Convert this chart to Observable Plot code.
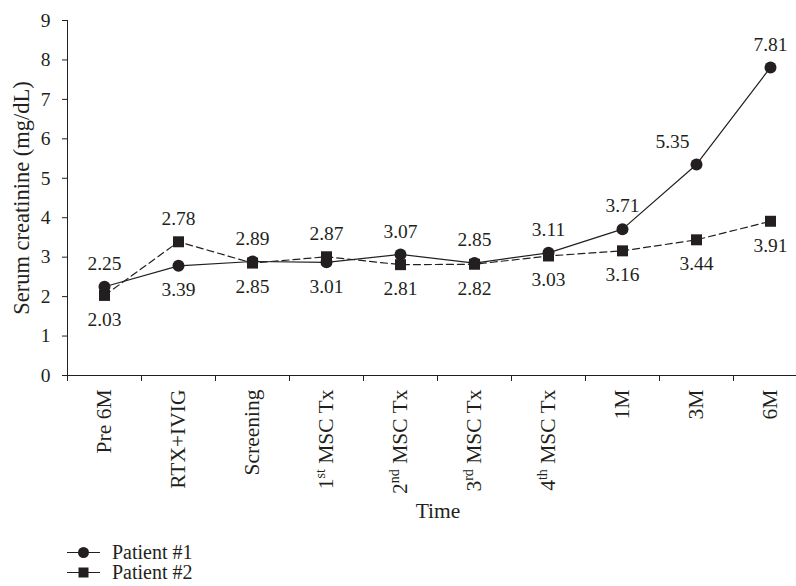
<!DOCTYPE html>
<html><head><meta charset="utf-8">
<script src="https://cdn.jsdelivr.net/npm/d3@7"></script>
<script src="https://cdn.jsdelivr.net/npm/@observablehq/plot@0.6"></script>
<style>
body{margin:0;background:#fff;font-family:"Liberation Serif","Times New Roman",serif;color:#231f20}
#chart svg{display:block}
#legend{margin-left:67px;margin-top:8px}
.row{display:flex;align-items:center;height:19.5px;font-size:20px;line-height:19.5px}
.row svg{margin-right:12px;display:block}
</style></head><body>
<div id="chart"></div>
<div id="legend"></div>
<script>
const categories = ["Pre 6M","RTX+IVIG","Screening","1st MSC Tx","2nd MSC Tx","3rd MSC Tx","4th MSC Tx","1M","3M","6M"];
const patient1 = [2.25,2.78,2.89,2.87,3.07,2.85,3.11,3.71,5.35,7.81];
const patient2 = [2.03,3.39,2.85,3.01,2.81,2.82,3.03,3.16,3.44,3.91];
const yTicks = [0,1,2,3,4,5,6,7,8,9];
const seriesNames = ["Patient #1","Patient #2"];
const xTitle = "Time";
const yTitle = "Serum creatinine (mg/dL)";

const ink = "#231f20";
const font = '"Liberation Serif","Times New Roman",serif';
const rows = categories.map((c,i)=>({time:c,p1:patient1[i],p2:patient2[i]}));
const xRange = [67, 807];
const band = (xRange[1]-xRange[0])/categories.length;

const chart = Plot.plot({
  width: 796, height: 535,
  marginLeft: 67, marginRight: 0, marginTop: 20, marginBottom: 160,
  style: {fontFamily: font, fontSize: "19px", color: ink, background: "white"},
  x: {type: "band", domain: categories, range: xRange, padding: 0},
  y: {domain: [0, 9]},
  marks: [
    Plot.frame({anchor: "left", stroke: ink}),
    Plot.ruleY([0], {stroke: ink}),
    Plot.axisY({ticks: yTicks, tickSize: 5, tickPadding: 12, fontSize: 19.5, label: null, stroke: ink, fill: ink}),
    Plot.axisX({tickSize: 6, dx: -band/2, tickFormat: () => "", label: null, stroke: ink}),
    Plot.axisX({tickSize: 0, tickRotate: -90, tickPadding: 14, fontSize: 21.5, label: null, fill: ink}),
    Plot.text([xTitle], {frameAnchor: "bottom", dy: 142, dx: 6, fontSize: 21.5, fill: ink}),
    Plot.text([yTitle], {frameAnchor: "left", textAnchor: "middle", rotate: -90, dx: -46, fontSize: 22.5, fill: ink}),
    Plot.line(rows, {x: "time", y: "p2", stroke: ink, strokeWidth: 1.2, strokeDasharray: "7,4"}),
    Plot.line(rows, {x: "time", y: "p1", stroke: ink, strokeWidth: 1.2}),
    Plot.dot(rows, {x: "time", y: "p2", symbol: "square", r: 6.2, fill: ink, stroke: null}),
    Plot.dot(rows, {x: "time", y: "p1", symbol: "circle", r: 6, fill: ink, stroke: null}),
    Plot.text(rows.filter(d => d.time !== "3M"), {x: "time", y: d => Math.max(d.p1, d.p2), text: d => d.p1.toFixed(2), dy: -23, fontSize: 19.5, fill: ink}),
    Plot.text(rows.filter(d => d.time === "3M"), {x: "time", y: d => Math.max(d.p1, d.p2), text: d => d.p1.toFixed(2), dy: -23, dx: -24, fontSize: 19.5, fill: ink}),
    Plot.text(rows, {x: "time", y: d => Math.min(d.p1, d.p2), text: d => d.p2.toFixed(2), dy: 24, fontSize: 19.5, fill: ink})
  ]
});
document.getElementById("chart").appendChild(chart);

// superscript ordinals in tick labels
const NS = "http://www.w3.org/2000/svg";
chart.querySelectorAll("text").forEach(t => {
  const m = t.textContent.match(/^(\d)(st|nd|rd|th)( .*)$/);
  if (!m || t.children.length) return;
  t.textContent = "";
  const a = document.createElementNS(NS, "tspan"); a.textContent = m[1];
  const b = document.createElementNS(NS, "tspan"); b.textContent = m[2];
  b.setAttribute("dy", "-8"); b.setAttribute("font-size", "14");
  const c = document.createElementNS(NS, "tspan"); c.textContent = m[3];
  c.setAttribute("dy", "8");
  t.append(a, b, c);
});

// legend
const legend = document.getElementById("legend");
seriesNames.forEach((name, i) => {
  const row = document.createElement("div"); row.className = "row";
  const sw = d3.create("svg").attr("width", 33).attr("height", 19);
  sw.append("line").attr("x1", 0).attr("x2", 33).attr("y1", 9.5).attr("y2", 9.5).attr("stroke", ink).attr("stroke-width", 1.2);
  if (i === 0) sw.append("circle").attr("cx", 16.5).attr("cy", 9.5).attr("r", 5.5).attr("fill", ink);
  else sw.append("rect").attr("x", 11.5).attr("y", 4.5).attr("width", 10).attr("height", 10).attr("fill", ink);
  row.appendChild(sw.node());
  const sp = document.createElement("span"); sp.textContent = name;
  row.appendChild(sp);
  legend.appendChild(row);
});
</script>
</body></html>
